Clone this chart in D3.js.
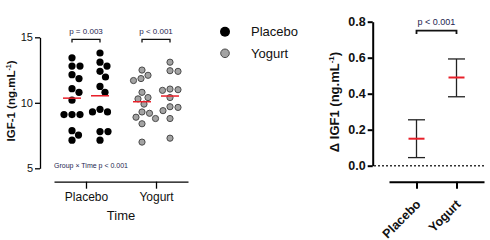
<!DOCTYPE html>
<html>
<head>
<meta charset="utf-8">
<script src="https://cdn.jsdelivr.net/npm/d3@7"></script>
<style>
  body { margin: 0; background: #fff; }
  svg { display: block; font-family: "Liberation Sans", Arial, sans-serif; }
</style>
</head>
<body>
<svg width="490" height="240"></svg>
<script>
// left panel: individual IGF-1 values (ng/mL), pre / post in each group
const groups = ["Placebo", "Yogurt"];
const times = ["Pre", "Post"];
const placeboPre = [13.43, 12.8, 12.8, 12.15, 11.85, 11.08, 10.8, 10.2, 9.1, 9.1, 9.1, 7.87, 7.54, 7.15];
const placeboPost = [13.8, 13.1, 12.8, 12.4, 11.97, 11.25, 10.8, 9.5, 9.3, 9.3, 7.8, 7.8, 7.15];
const yogurtPre = [12.5, 12.1, 11.85, 11.7, 10.8, 10.4, 10.3, 9.9, 9.3, 9.2, 8.9, 8.8, 8.4, 7.0];
const yogurtPost = [13.1, 12.45, 12.4, 11.05, 11.0, 10.95, 10.4, 9.7, 9.65, 9.4, 8.8, 7.3];
const leftTicks = [5, 10, 15];
const pLabels = ["p = 0.003", "p < 0.001"];

// right panel: change in IGF-1, mean with error bar
const deltaCats = ["Placebo", "Yogurt"];
const deltaMean = [0.15, 0.49];
const deltaLow = [0.045, 0.383];
const deltaHigh = [0.255, 0.593];
const rightTicks = [0.0, 0.2, 0.4, 0.6, 0.8];

const svg = d3.select("svg");
const red = "#e8202a";
const dotR = 3.6;

// ---------- left panel ----------
const y1 = d3.scaleLinear().domain([5, 15]).range([168.3, 37.3]);
const x1 = d3.scalePoint().domain(groups).range([54, 188]).padding(0.457);
const sub = d3.scalePoint().domain(times).range([-14, 14]);

svg.append("g")
    .attr("transform", "translate(40,0)")
    .call(d3.axisLeft(y1).tickValues(leftTicks).tickSize(5).tickSizeOuter(0).tickPadding(2))
    .call(g => g.select(".domain").attr("stroke-width", 1.3))
    .call(g => g.selectAll(".tick line").attr("stroke-width", 1.3))
    .call(g => g.selectAll("text").attr("font-size", 11).attr("fill", "#111").attr("font-family", null));

svg.append("g")
    .attr("transform", "translate(0,181.7)")
    .call(d3.axisBottom(x1).tickSize(7).tickSizeOuter(0).tickPadding(4))
    .call(g => g.select(".domain").attr("stroke-width", 1.3))
    .call(g => g.selectAll(".tick line").attr("stroke-width", 1.3))
    .call(g => g.selectAll("text").attr("font-size", 12).attr("fill", "#111").attr("font-family", null));

svg.append("text")
    .attr("x", x1.range()[0] + (x1.range()[1] - x1.range()[0]) / 2)
    .attr("y", 220)
    .attr("text-anchor", "middle")
    .attr("font-size", 13)
    .attr("fill", "#111")
    .text("Time");

const yl = svg.append("text")
    .attr("transform", "translate(15,101) rotate(-90)")
    .attr("text-anchor", "middle")
    .attr("font-size", 11.5)
    .attr("font-weight", "bold")
    .attr("fill", "#111");
yl.append("tspan").text("IGF-1 (ng.mL");
yl.append("tspan").attr("dy", -4).attr("font-size", 7).text("-1");
yl.append("tspan").attr("dy", 4).text(")");

// simple swarm so dots don't overlap
function swarm(values, cx) {
  const placed = [];
  const sorted = values.slice().sort((a, b) => b - a);
  sorted.forEach(v => {
    const py = y1(v);
    let best = 0;
    for (let k = 0; k < 60; k++) {
      const cands = k === 0 ? [0] : [k * 0.5, -k * 0.5];
      let ok = null;
      for (const off of cands) {
        const hit = placed.some(p => Math.hypot(p.x - (cx + off), p.y - py) < 2 * dotR + 0.4);
        if (!hit) { ok = off; break; }
      }
      if (ok !== null) { best = ok; break; }
    }
    placed.push({x: cx + best, y: py, v: v});
  });
  return placed;
}

const cols = [
  {g: "Placebo", t: "Pre", vals: placeboPre},
  {g: "Placebo", t: "Post", vals: placeboPost},
  {g: "Yogurt", t: "Pre", vals: yogurtPre},
  {g: "Yogurt", t: "Post", vals: yogurtPost}
];

cols.forEach(c => {
  const cx = x1(c.g) + sub(c.t);
  const pts = swarm(c.vals, cx);
  const isYog = c.g === "Yogurt";
  svg.append("g").selectAll("circle")
    .data(pts)
    .join("circle")
    .attr("cx", d => d.x)
    .attr("cy", d => d.y)
    .attr("r", isYog ? dotR - 0.5 : dotR)
    .attr("fill", isYog ? "#a3a3a3" : "#000")
    .attr("stroke", isYog ? "#4a4a4a" : "none")
    .attr("stroke-width", 1);
  const m = d3.mean(c.vals);
  svg.append("line")
    .attr("x1", cx - 9).attr("x2", cx + 9)
    .attr("y1", y1(m)).attr("y2", y1(m))
    .attr("stroke", red).attr("stroke-width", 1.5);
});

// brackets with p-values
groups.forEach((g, i) => {
  const a = x1(g) + sub("Pre"), b = x1(g) + sub("Post");
  svg.append("path")
    .attr("d", `M${a},42.5V39.3H${b}V42.5`)
    .attr("fill", "none").attr("stroke", "#111").attr("stroke-width", 1.3);
  svg.append("text")
    .attr("x", (a + b) / 2).attr("y", 34)
    .attr("text-anchor", "middle")
    .attr("font-size", 8)
    .attr("fill", "#1d2550")
    .text(pLabels[i]);
});

svg.append("text")
    .attr("x", 54).attr("y", 168)
    .attr("font-size", 7)
    .attr("fill", "#1d2550")
    .text("Group \u00d7 Time p < 0.001");

// legend
const legend = svg.append("g");
groups.forEach((g, i) => {
  const ly = 31.7 + i * 21.6;
  legend.append("circle")
    .attr("cx", 225).attr("cy", ly).attr("r", i ? 4.3 : 5)
    .attr("fill", i ? "#a3a3a3" : "#000")
    .attr("stroke", i ? "#4a4a4a" : "none");
  legend.append("text")
    .attr("x", 251).attr("y", ly + 4.6)
    .attr("font-size", 13)
    .attr("fill", "#111")
    .text(g);
});

// ---------- right panel ----------
const y2 = d3.scaleLinear().domain([0, 0.8]).range([165.7, 21.7]);
const x2 = d3.scalePoint().domain(deltaCats).range([389, 484]).padding(0.6875);

svg.append("g")
    .attr("transform", "translate(372.7,0)")
    .call(d3.axisLeft(y2).tickValues(rightTicks).tickFormat(d3.format(".1f")).tickSize(5).tickSizeOuter(0).tickPadding(2))
    .call(g => g.select(".domain").attr("stroke-width", 2))
    .call(g => g.selectAll(".tick line").attr("stroke-width", 2))
    .call(g => g.selectAll("text").attr("font-size", 12.5).attr("font-weight", "bold").attr("fill", "#111").attr("font-family", null));

svg.append("g")
    .attr("transform", "translate(0,181.7)")
    .call(d3.axisBottom(x2).tickSize(7).tickSizeOuter(0).tickFormat(""))
    .call(g => g.select(".domain").attr("stroke-width", 2))
    .call(g => g.selectAll(".tick line").attr("stroke-width", 2));

svg.append("g").selectAll("text")
  .data(deltaCats)
  .join("text")
    .attr("transform", d => `translate(${x2(d) + 5},205) rotate(-45)`)
    .attr("text-anchor", "end")
    .attr("font-size", 12.5)
    .attr("font-weight", "bold")
    .attr("fill", "#111")
    .text(d => d);

svg.append("line")
    .attr("x1", 374).attr("x2", 486)
    .attr("y1", y2(0)).attr("y2", y2(0))
    .attr("stroke", "#333").attr("stroke-width", 1.5)
    .attr("stroke-dasharray", "2,2");

const yr = svg.append("text")
    .attr("transform", "translate(339,102) rotate(-90)")
    .attr("text-anchor", "middle")
    .attr("font-size", 13)
    .attr("font-weight", "bold")
    .attr("fill", "#111");
yr.append("tspan").text("\u0394 IGF1  (ng.mL");
yr.append("tspan").attr("dy", -5).attr("font-size", 8).text("-1");
yr.append("tspan").attr("dy", 5).text(")");

deltaCats.forEach((c, i) => {
  const cx = x2(c);
  const g = svg.append("g").attr("stroke", "#222").attr("stroke-width", 1.3);
  g.append("line").attr("x1", cx).attr("x2", cx).attr("y1", y2(deltaLow[i])).attr("y2", y2(deltaHigh[i]));
  g.append("line").attr("x1", cx - 8.5).attr("x2", cx + 8.5).attr("y1", y2(deltaLow[i])).attr("y2", y2(deltaLow[i]));
  g.append("line").attr("x1", cx - 8.5).attr("x2", cx + 8.5).attr("y1", y2(deltaHigh[i])).attr("y2", y2(deltaHigh[i]));
  svg.append("line")
    .attr("x1", cx - 8).attr("x2", cx + 8)
    .attr("y1", y2(deltaMean[i])).attr("y2", y2(deltaMean[i]))
    .attr("stroke", red).attr("stroke-width", 2);
});

const xa = x2(deltaCats[0]), xb = x2(deltaCats[1]);
svg.append("path")
    .attr("d", `M${xa},34V30.7H${xb}V34`)
    .attr("fill", "none").attr("stroke", "#111").attr("stroke-width", 1.8);
svg.append("text")
    .attr("x", (xa + xb) / 2).attr("y", 25)
    .attr("text-anchor", "middle")
    .attr("font-size", 9)
    .attr("fill", "#1d2550")
    .text("p < 0.001");
</script>
</body>
</html>
